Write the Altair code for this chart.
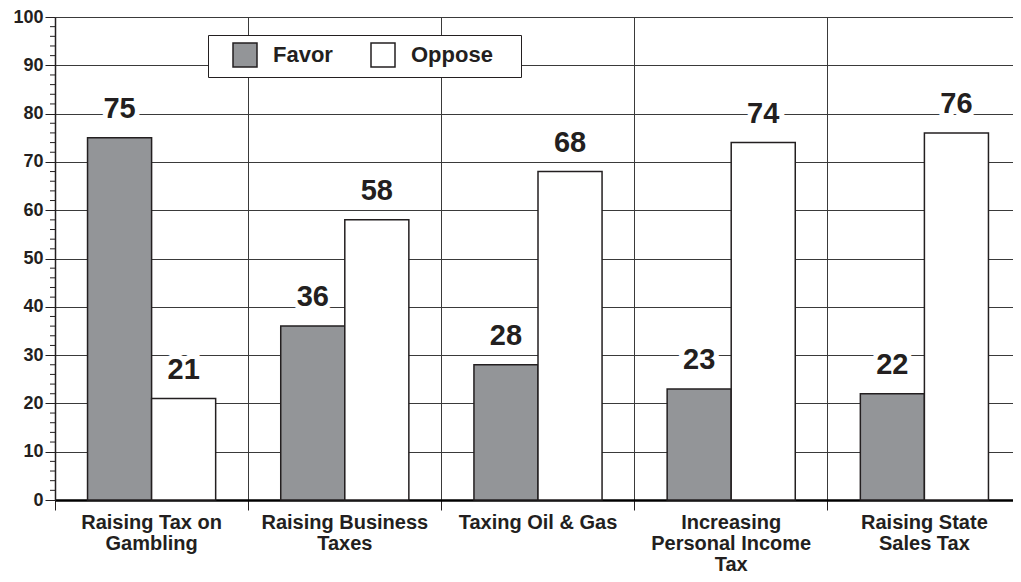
import altair as alt
import pandas as pd

categories = [
    "Raising Tax on\nGambling",
    "Raising Business\nTaxes",
    "Taxing Oil & Gas",
    "Increasing\nPersonal Income\nTax",
    "Raising State\nSales Tax",
]
groups = ["Favor", "Oppose"]
favor = [75, 36, 28, 23, 22]
oppose = [21, 58, 68, 74, 76]
y_ticks = [0, 10, 20, 30, 40, 50, 60, 70, 80, 90, 100]
minor_ticks = [v for v in range(0, 101, 2) if v % 10]

rows = []
for c, f, o in zip(categories, favor, oppose):
    rows.append({"category": c, "group": "Favor", "value": f})
    rows.append({"category": c, "group": "Oppose", "value": o})
df = pd.DataFrame(rows)

DARK = "#231f20"
GRAY = "#939598"
FONT = "Liberation Sans"
W = 966
H = 483

x_enc = alt.X(
    "category:N",
    sort=categories,
    title=None,
    scale=alt.Scale(paddingInner=0, paddingOuter=0),
    axis=alt.Axis(
        labelAngle=0,
        bandPosition=0,
        labelExpr="split(datum.label, '\\n')",
        labelFont=FONT,
        labelFontSize=20,
        labelFontWeight="bold",
        labelColor=DARK,
        labelLineHeight=21,
        labelBaseline="top",
        labelPadding=2,
        labelLimit=400,
        tickSize=10,
        tickColor=DARK,
        tickWidth=1,
        domainColor="#000000",
        domainWidth=2.5,
        grid=True,
        gridColor="#3a3a3a",
        gridWidth=1,
    ),
)
xoff_enc = alt.XOffset(
    "group:N", sort=groups, scale=alt.Scale(paddingInner=0, paddingOuter=0.508)
)
y_enc = alt.Y(
    "value:Q",
    title=None,
    scale=alt.Scale(domain=[0, 100], nice=False),
    axis=alt.Axis(
        values=y_ticks,
        labelFont=FONT,
        labelFontSize=18,
        labelFontWeight="bold",
        labelColor=DARK,
        labelPadding=2,
        tickSize=10,
        tickColor=DARK,
        domainColor=DARK,
        domainWidth=1.5,
        grid=True,
        gridColor="#3a3a3a",
        gridWidth=1,
    ),
)

base = alt.Chart(df)

bars = base.mark_bar(stroke=DARK, strokeWidth=1.5).encode(
    x=x_enc,
    xOffset=xoff_enc,
    y=y_enc,
    color=alt.Color(
        "group:N",
        sort=groups,
        scale=alt.Scale(domain=groups, range=[GRAY, "#ffffff"]),
        legend=alt.Legend(
            title=" ",
            titleOrient="right",
            titleFontSize=10,
            titlePadding=21,
            orient="none",
            legendX=153,
            legendY=18,
            direction="horizontal",
            symbolType="square",
            symbolSize=576,
            symbolStrokeColor=DARK,
            symbolStrokeWidth=1.5,
            labelFont=FONT,
            labelFontSize=22,
            labelFontWeight="bold",
            labelColor=DARK,
            labelOffset=15,
            padding=7,
            symbolOffset=17,
            columnPadding=20,
            fillColor="#ffffff",
            strokeColor=DARK,
        ),
    ),
)

halo = base.mark_text(
    font=FONT, fontSize=29, fontWeight="bold", baseline="alphabetic", dy=-20,
    stroke="#ffffff", strokeWidth=10, fill="#ffffff",
).encode(x=x_enc, xOffset=xoff_enc, y=y_enc, text="value:Q")

labels = base.mark_text(
    font=FONT, fontSize=29, fontWeight="bold", baseline="alphabetic", dy=-20,
    fill=DARK,
).encode(x=x_enc, xOffset=xoff_enc, y=y_enc, text="value:Q")

minor = alt.Chart(pd.DataFrame({"t": minor_ticks})).mark_rule(
    color=DARK, strokeWidth=1
).encode(
    y=alt.Y("t:Q", title=None),
    x=alt.value(-5),
    x2=alt.value(0),
)

chart = (
    alt.layer(bars, halo, labels, minor)
    .properties(
        width=W,
        height=H,
        autosize=alt.AutoSizeParams(type="none"),
        padding={"left": 47, "top": 9, "right": -8, "bottom": 74},
    )
    .configure(font=FONT)
    .configure_view(stroke=None)
)

chart.save("out.html", embed_options={"renderer": "svg", "actions": False})
